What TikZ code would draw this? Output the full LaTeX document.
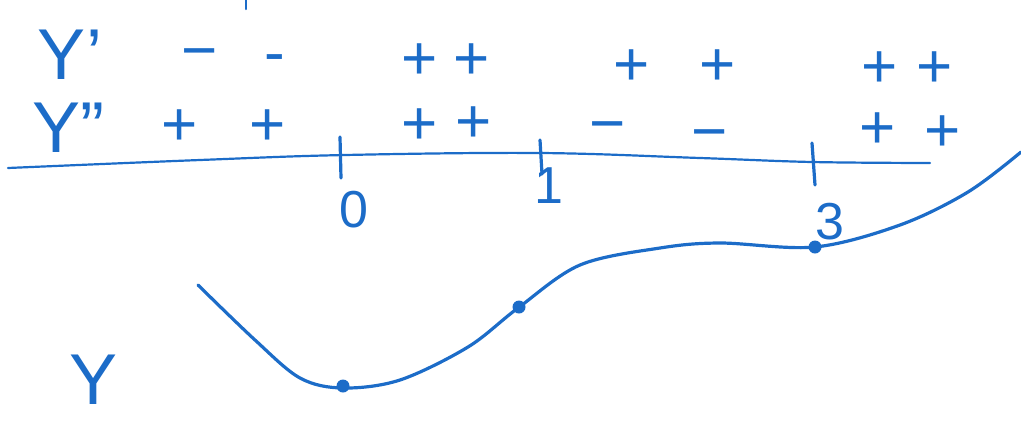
\documentclass[tikz,border=0pt]{standalone}
\usepackage{fontspec}
\setmainfont{Liberation Sans}
\definecolor{ink}{RGB}{28,108,200}
\begin{document}
\begin{tikzpicture}[x=1pt,y=-1pt,
  pen/.style={draw=ink,line width=3.2pt,line cap=round,line join=round},
  lab/.style={text=ink,inner sep=0pt,font=\fontsize{72}{76}\selectfont},
  sgn/.style={text=ink,inner sep=0pt,font=\fontsize{62}{64}\selectfont},
  num/.style={text=ink,inner sep=0pt,font=\fontsize{52}{56}\selectfont},
  dot/.style={circle,fill=ink,inner sep=0pt,minimum size=13pt}]
\useasboundingbox (0,0) rectangle (1021,424);
% labels
\node[lab] (yp) at (70,55) {Y'};
\node[lab] (ypp) at (68,128) {Y''};
\node[lab] (y) at (94,380) {Y};
% stray mark
\coordinate (m1) at (246,0);
\coordinate (m2) at (246,9);
\draw[pen,line width=2.5pt] (m1) -- (m2);
% row Y'
\node[sgn] (a1) at (200,60) {−};
\node[sgn] (a2) at (275,64) {-};
\node[sgn] (a3) at (420,62) {+};
\node[sgn] (a4) at (472,62) {+};
\node[sgn] (a5) at (632,68) {+};
\node[sgn] (a6) at (718,68) {+};
\node[sgn] (a7) at (880,70) {+};
\node[sgn] (a8) at (935,70) {+};
% row Y''
\node[sgn] (b1) at (180,128) {+};
\node[sgn] (b2) at (268,128) {+};
\node[sgn] (b3) at (420,127) {+};
\node[sgn] (b4) at (474,125) {+};
\node[sgn] (b5) at (608,133) {−};
\node[sgn] (b6) at (710,141) {−};
\node[sgn] (b7) at (878,131) {+};
\node[sgn] (b8) at (943,134) {+};
% axis
\draw[pen,line width=2.2pt] plot[smooth,tension=0.6] coordinates {(8,168) (200,160) (345,155) (540,153) (700,158) (812,162) (930,163)};
% ticks
\coordinate (t0a) at (340,137); \coordinate (t0b) at (341,178);
\coordinate (t1a) at (540,140); \coordinate (t1b) at (542,174);
\coordinate (t3a) at (812,143); \coordinate (t3b) at (815,185);
\draw[pen] (t0a) -- (t0b);
\draw[pen] (t1a) -- (t1b);
\draw[pen] (t3a) -- (t3b);
% numbers
\node[num] (n0) at (354,210) {0};
\node[num] (n1) at (549,186) {1};
\node[num] (n3) at (830,222) {3};
% curve
\draw[pen] plot[smooth,tension=0.55] coordinates {(198,285) (255,340) (300,378) (343,388) (400,380) (468,347) (518,308) (580,265) (660,248) (720,243) (815,247) (900,225) (968,192) (1021,152)};
\node[dot] (d0) at (343,386) {};
\node[dot] (d1) at (519,307) {};
\node[dot] (d3) at (815,247) {};
\end{tikzpicture}
\end{document}
